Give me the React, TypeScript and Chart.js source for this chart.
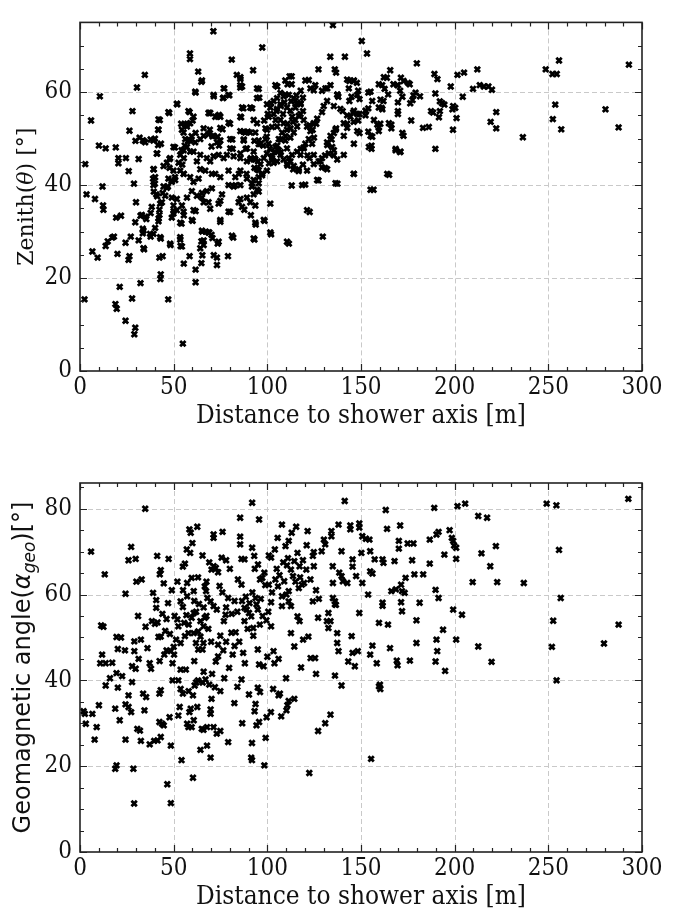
import React, { useEffect, useRef } from "react";
import { Chart, registerables } from "chart.js";

Chart.register(...registerables);

// ---------- data ----------
const xTickValues = [0, 50, 100, 150, 200, 250, 300];
const zenithTickValues = [0, 20, 40, 60];
const geoTickValues = [0, 20, 40, 60, 80];

const xAxisTitle = "Distance to shower axis [m]";

// Zenith angle vs distance  [distance (m), zenith (deg)]
const zenithPoints: [number, number][] = [
  [2.8, 44.5], [5.9, 53.9], [10.6, 59.1], [10.1, 48.5], [13.7, 47.9], [19.1, 48.1], [3.5, 38.0], [8.0, 37.0],
  [12.0, 39.7], [12.3, 35.6], [20.5, 45.8], [24.5, 45.8], [20.5, 44.7], [26.0, 43.0], [26.4, 51.7], [28.0, 55.9],
  [28.8, 40.3], [30.4, 61.0], [34.6, 63.7], [31.3, 45.6], [29.9, 36.3], [31.8, 50.2], [29.6, 49.5], [34.0, 49.5],
  [37.7, 49.8], [40.0, 50.0], [41.7, 51.9], [42.6, 54.0], [41.7, 48.6], [41.2, 46.8], [47.6, 55.5], [51.9, 57.4],
  [50.7, 48.1], [47.8, 45.6], [47.8, 43.7], [39.4, 43.4], [39.0, 41.4], [40.0, 40.3], [39.4, 38.6], [41.2, 37.6],
  [44.1, 38.3], [46.9, 39.7], [48.8, 41.0], [50.7, 41.7], [55.4, 42.4], [54.6, 44.4], [55.4, 45.8], [54.2, 47.5],
  [55.9, 48.5], [57.7, 49.5], [59.6, 50.5], [61.7, 51.2], [58.5, 55.7], [60.1, 53.9], [54.0, 53.2], [57.3, 53.2],
  [58.7, 68.3], [58.7, 67.1], [61.7, 59.9], [63.1, 64.4], [64.8, 62.2], [71.2, 73.1], [71.4, 59.1], [69.0, 55.5],
  [73.5, 54.8], [74.2, 55.1], [69.3, 51.9], [66.0, 52.2], [70.7, 50.5], [73.5, 50.4], [74.2, 48.5], [70.2, 48.3],
  [76.1, 52.0], [80.1, 53.2], [77.0, 60.8], [76.6, 58.8], [79.7, 59.3], [81.0, 67.0], [83.7, 63.7], [85.6, 62.8],
  [85.6, 61.0], [86.5, 61.2], [87.2, 56.5], [86.0, 54.6], [91.9, 56.5], [92.4, 64.7], [95.4, 60.7], [95.7, 58.8],
  [97.3, 69.6], [87.2, 51.5], [89.6, 51.5], [87.4, 49.8], [81.3, 49.8], [81.5, 47.8], [85.6, 46.8], [88.4, 47.8],
  [91.2, 45.8], [93.1, 45.8], [95.0, 45.1], [93.1, 43.7], [95.4, 43.2], [97.3, 42.5], [95.4, 38.6], [91.9, 40.3],
  [88.9, 42.4], [84.8, 42.4], [83.0, 40.0], [93.1, 49.5], [95.4, 48.8], [97.8, 48.5], [99.7, 50.4], [99.0, 52.2],
  [98.3, 53.9], [100.2, 55.3], [102.0, 57.6], [104.9, 55.9], [105.3, 61.2], [109.6, 59.5], [110.8, 61.7], [111.9, 63.4],
  [113.0, 63.4], [113.0, 61.7], [114.9, 58.1], [112.7, 58.0], [109.1, 57.8], [107.2, 57.0], [108.4, 55.3], [110.8, 53.2],
  [113.8, 53.6], [116.7, 54.9], [117.8, 57.6], [119.0, 55.9], [115.5, 59.3], [119.0, 58.8], [117.8, 60.3], [122.1, 62.6],
  [125.6, 61.5], [127.3, 64.9], [129.2, 60.3], [132.0, 60.8], [133.6, 67.6], [135.0, 74.4], [136.0, 64.9], [136.7, 64.2],
  [137.4, 59.5], [137.9, 59.0], [140.2, 55.9], [141.4, 67.6], [143.8, 62.4], [146.1, 62.4], [147.8, 62.0], [148.5, 60.3],
  [150.4, 71.0], [153.2, 68.3], [153.9, 59.9], [156.0, 58.1], [149.2, 58.5], [144.9, 59.0], [143.8, 58.1], [146.1, 53.6],
  [142.6, 53.2], [148.5, 53.9], [149.2, 55.3], [145.8, 55.6], [152.7, 55.9], [153.9, 56.5], [153.9, 51.5], [149.2, 51.2],
  [156.0, 50.4], [155.6, 48.5], [155.6, 47.8], [156.7, 39.0], [146.1, 42.4], [137.4, 40.3], [135.5, 51.2], [136.7, 52.2],
  [134.3, 49.8], [135.5, 46.4], [127.3, 41.0], [130.8, 43.7], [128.4, 45.1], [132.0, 48.6], [130.8, 46.4], [124.9, 50.2],
  [124.2, 51.9], [122.5, 52.9], [126.1, 53.2], [121.4, 46.4], [122.5, 45.8], [119.0, 44.4], [116.7, 43.0], [113.8, 43.4],
  [110.8, 44.2], [111.5, 45.8], [117.8, 47.8], [119.4, 48.1], [120.2, 40.1], [113.0, 39.9], [107.2, 47.1], [105.3, 48.5],
  [103.7, 47.1], [101.3, 47.8], [100.9, 44.7], [102.5, 45.8], [107.2, 49.8], [109.6, 50.5], [112.4, 52.2], [104.4, 54.0],
  [102.5, 52.5], [160.3, 53.2], [159.5, 52.5], [161.4, 56.3], [161.0, 56.6], [162.0, 58.1], [165.0, 42.2], [164.5, 59.5],
  [163.8, 63.1], [165.6, 64.7], [159.5, 61.7], [162.6, 60.7], [166.2, 53.0], [166.2, 52.2], [168.5, 47.8], [170.8, 47.1],
  [167.3, 61.7], [169.7, 61.5], [169.7, 57.8], [169.7, 55.9], [169.7, 55.3], [170.9, 60.3], [172.1, 59.0], [171.3, 63.1],
  [172.7, 62.4], [175.1, 62.0], [176.0, 61.7], [176.3, 57.6], [177.5, 58.3], [179.1, 59.9], [178.0, 59.3], [181.5, 59.1],
  [179.8, 66.2], [172.1, 51.2], [172.7, 50.6], [176.8, 53.9], [183.1, 52.3], [186.2, 52.5], [187.4, 55.9], [188.5, 55.6],
  [189.7, 47.8], [189.7, 59.7], [189.2, 63.9], [190.8, 62.8], [192.1, 55.9], [192.1, 58.0], [193.3, 57.6], [194.5, 57.3],
  [191.6, 54.6], [198.8, 56.3], [199.2, 57.0], [200.3, 56.6], [201.0, 54.4], [199.1, 51.9], [197.9, 61.2], [201.5, 63.7],
  [205.0, 64.2], [204.3, 59.0], [212.1, 64.9], [209.8, 60.7], [213.4, 61.5], [215.6, 61.2], [218.0, 61.2], [219.9, 60.5],
  [219.2, 53.6], [222.2, 52.2], [222.2, 55.7], [236.4, 50.3], [248.6, 64.9], [252.2, 63.9], [254.5, 63.9], [255.7, 66.8],
  [253.7, 57.3], [252.4, 54.2], [256.9, 52.0], [280.5, 56.3], [287.5, 52.4], [293.0, 65.9],
  [2.4, 15.4], [6.6, 25.7], [9.4, 24.4], [12.5, 34.7], [13.7, 26.9], [14.8, 27.9], [17.2, 28.7], [18.1, 28.9],
  [20.0, 25.2], [19.3, 33.0], [21.9, 33.4], [18.9, 14.4], [19.6, 13.4], [21.2, 18.1], [24.3, 10.8], [24.3, 27.6],
  [25.9, 23.9], [26.4, 24.7], [27.1, 28.9], [27.8, 15.6], [29.5, 9.3], [29.0, 7.9], [29.5, 32.0], [31.3, 28.1],
  [32.3, 18.9], [32.3, 33.4], [34.2, 26.2], [33.5, 30.6], [33.5, 29.6], [35.4, 32.7], [37.7, 28.9], [37.7, 34.0],
  [42.0, 32.8], [42.4, 24.4], [43.1, 20.8], [42.9, 19.8], [44.1, 24.7], [43.1, 28.5], [42.4, 34.7], [47.1, 15.4],
  [48.3, 27.1], [49.0, 33.0], [50.0, 34.4], [53.5, 28.3], [53.7, 26.9], [54.2, 31.7], [55.4, 33.5], [55.4, 23.1],
  [54.9, 5.9], [58.5, 24.7], [60.1, 32.3], [61.7, 21.8], [61.7, 19.1], [61.7, 34.4], [64.8, 23.2], [65.3, 24.9],
  [64.8, 27.9], [66.0, 27.1], [65.3, 30.0], [67.1, 30.0], [69.0, 29.8], [70.2, 29.3], [70.7, 28.6], [71.4, 24.9],
  [73.1, 24.4], [73.1, 22.8], [73.5, 27.4], [74.9, 32.1], [79.0, 24.7], [80.1, 34.2], [81.8, 28.7], [87.7, 34.7],
  [91.2, 33.5], [93.1, 28.3], [93.8, 31.5], [98.5, 32.3], [102.0, 29.4], [111.5, 27.4], [122.6, 34.2], [129.6, 28.9],
  [33.5, 49.6], [34.8, 49.2], [39.2, 49.6], [41.9, 51.9], [43.2, 48.9], [41.0, 46.8], [39.2, 43.4], [40.1, 41.7],
  [39.2, 40.0], [40.7, 38.0], [38.3, 35.3], [42.8, 36.0], [42.4, 33.6], [43.7, 36.3], [33.0, 33.6], [34.8, 33.2],
  [47.2, 55.7], [41.9, 54.1], [49.9, 48.2], [48.1, 45.8], [46.4, 44.8], [44.6, 44.1], [49.9, 43.1], [47.2, 41.4],
  [49.0, 40.7], [50.8, 41.1], [46.4, 39.4], [44.6, 39.7], [45.5, 37.7], [49.0, 37.3], [49.9, 35.6], [51.7, 37.0],
  [55.3, 34.3], [54.4, 35.6], [57.1, 37.3], [59.7, 38.7], [62.4, 37.7], [65.1, 38.3], [65.1, 37.3], [67.7, 38.7],
  [68.6, 36.3], [70.4, 39.3], [66.0, 36.3], [69.5, 34.9], [74.0, 36.0], [74.9, 36.6], [75.8, 38.0], [79.3, 40.0],
  [82.0, 39.7], [85.6, 40.0], [85.6, 37.0], [84.7, 36.3], [89.1, 37.3], [90.9, 36.3], [86.5, 35.3], [93.6, 35.6],
  [92.7, 38.0], [94.5, 39.0], [91.8, 39.7], [95.4, 40.4], [92.7, 41.1], [89.1, 41.4], [85.6, 43.1], [82.9, 41.7],
  [79.3, 43.1], [74.9, 41.7], [72.2, 42.4], [70.4, 42.4], [66.9, 43.1], [64.2, 43.4], [63.3, 41.4], [60.6, 40.7],
  [58.8, 41.7], [55.3, 42.4], [53.5, 43.1], [52.6, 44.8], [53.5, 46.5], [55.3, 47.5], [57.1, 48.2], [58.8, 47.2],
  [60.6, 47.2], [62.4, 45.1], [64.2, 46.5], [67.7, 45.8], [69.5, 45.1], [71.3, 46.2], [74.0, 46.5], [76.7, 45.8],
  [78.4, 46.5], [82.0, 46.2], [85.6, 45.8], [89.1, 45.1], [90.9, 45.5], [93.6, 45.5], [92.7, 47.2], [89.1, 47.9],
  [87.4, 49.6], [88.2, 51.3], [85.6, 51.6], [80.2, 49.9], [74.9, 49.6], [73.1, 49.2], [71.3, 50.6], [68.6, 50.9],
  [66.0, 50.6], [64.2, 49.9], [61.5, 49.2], [58.8, 49.6], [56.2, 49.9], [55.3, 51.3], [54.4, 51.9], [57.1, 52.6],
  [58.8, 53.3], [56.2, 53.0], [60.6, 54.7], [57.9, 55.9], [68.6, 55.5], [72.2, 54.7], [74.9, 54.7], [79.3, 53.4],
  [74.9, 52.3], [85.6, 54.7], [86.5, 56.7], [90.9, 56.7], [92.7, 54.0], [94.5, 53.3], [93.6, 51.3], [95.4, 49.6],
  [96.3, 48.9], [99.0, 49.9], [100.7, 48.9], [99.8, 46.8], [102.5, 46.2], [103.4, 44.8], [105.2, 45.1], [98.1, 45.8],
  [96.3, 44.5], [99.8, 43.1], [97.2, 42.1], [94.5, 43.4], [95.4, 41.7], [99.8, 51.9], [100.7, 54.7], [101.6, 56.7],
  [99.8, 57.4], [103.4, 58.1], [105.2, 58.7], [107.0, 59.8], [108.7, 59.1], [111.4, 59.4], [114.1, 58.7], [115.9, 57.7],
  [117.7, 57.4], [115.0, 56.7], [112.3, 56.0], [110.5, 56.7], [107.0, 57.4], [105.2, 56.4], [103.4, 55.3], [107.0, 54.0],
  [108.7, 53.3], [105.2, 52.6], [110.5, 51.9], [107.9, 51.3], [106.1, 49.9], [109.6, 49.6], [112.3, 50.2], [114.1, 51.3],
  [115.9, 52.6], [115.0, 54.0], [113.2, 54.7], [117.7, 55.3], [119.4, 54.0], [121.2, 52.6], [123.0, 51.6], [124.8, 53.3],
  [126.6, 54.3], [129.2, 55.7], [130.1, 57.0], [131.9, 58.1], [131.0, 60.8], [133.7, 61.5], [137.3, 59.4], [135.5, 57.0],
  [139.0, 56.4], [142.6, 55.0], [140.8, 53.3], [144.4, 54.7], [146.2, 56.0], [148.0, 55.3], [152.4, 56.0], [152.4, 55.0],
  [156.9, 54.0], [158.7, 53.0], [164.9, 53.3], [159.5, 51.6], [155.1, 50.6], [148.0, 51.6], [142.6, 52.3], [140.8, 50.6],
  [136.4, 51.9], [133.7, 50.6], [131.9, 49.2], [134.6, 48.2], [135.5, 47.5], [132.8, 46.8], [129.2, 45.8], [127.5, 45.1],
  [124.8, 46.5], [123.9, 48.9], [122.1, 49.9], [120.3, 48.9], [119.4, 47.9], [117.7, 46.5], [115.9, 47.2], [113.2, 46.5],
  [112.3, 45.1], [110.5, 44.5], [108.7, 45.5], [110.5, 47.9], [106.1, 47.5], [104.3, 48.2], [107.0, 46.5], [114.1, 44.1],
  [116.8, 43.4], [121.2, 43.1], [124.8, 44.5], [129.2, 43.8], [131.9, 43.4], [137.3, 45.5], [140.8, 46.5], [154.2, 48.2],
  [146.2, 48.9], [148.0, 59.4], [143.5, 60.8], [142.6, 62.7], [146.2, 62.5], [155.1, 60.1], [160.4, 58.4], [159.5, 56.7],
  [161.3, 61.5], [162.2, 63.2], [169.4, 61.5], [146.2, 42.4], [136.4, 40.4], [118.6, 40.0], [126.6, 41.1], [121.2, 34.6],
  [101.6, 36.0], [93.6, 31.9], [98.1, 32.5], [79.3, 34.3], [60.6, 34.6], [51.7, 34.6], [49.9, 33.9], [164.0, 42.4],
  [168.5, 47.5], [171.1, 47.2], [155.1, 39.0], [65.1, 62.5], [61.5, 60.1], [71.3, 59.4], [76.7, 60.8], [76.3, 58.7],
  [79.3, 59.4], [85.6, 63.2], [85.6, 61.5], [94.5, 60.8], [94.5, 58.7], [104.3, 61.5], [109.6, 62.5], [120.3, 62.5],
  [123.0, 60.8], [124.8, 60.4], [51.7, 57.5], [69.5, 55.5], [90.9, 51.3], [80.2, 47.9],
  [37.4, 29.5], [33.9, 30.2], [42.8, 28.8], [33.9, 26.4], [53.5, 31.9], [59.7, 32.5], [74.9, 32.5], [110.5, 27.8],
  [101.6, 29.8], [92.7, 28.5], [81.1, 29.1], [74.0, 27.8], [68.6, 29.8], [65.1, 30.2], [66.0, 28.1], [64.2, 26.4],
  [53.5, 28.8], [54.4, 26.8], [48.1, 27.4], [39.2, 29.5], [40.1, 30.8], [41.9, 32.2],
];

// Geomagnetic angle vs distance  [distance (m), alpha_geo (deg)]
const geoPoints: [number, number][] = [
  [5.9, 70.0], [13.2, 64.7], [11.3, 52.8], [12.5, 52.5], [10.8, 44.0], [13.7, 44.0], [17.2, 44.1], [11.8, 46.0],
  [19.5, 50.1], [21.9, 50.0], [20.2, 47.3], [19.5, 41.7], [24.3, 60.2], [25.9, 68.0], [27.3, 71.1], [29.7, 68.3],
  [30.1, 63.0], [32.9, 63.5], [34.8, 80.0], [29.0, 49.1], [32.5, 49.5], [31.3, 45.0], [27.8, 43.3], [29.7, 42.7],
  [29.0, 46.8], [37.2, 44.0], [37.9, 42.7], [39.0, 60.4], [40.7, 58.7], [40.7, 56.9], [38.4, 53.8], [40.0, 53.2],
  [41.4, 53.5], [41.9, 50.1], [43.1, 50.2], [41.2, 69.0], [42.6, 64.7], [43.1, 65.7], [44.7, 62.6], [47.3, 68.3],
  [46.2, 47.0], [48.5, 46.8], [46.2, 54.3], [50.2, 46.0], [49.4, 44.0], [52.5, 40.0], [53.7, 42.5], [54.9, 66.5],
  [56.0, 67.2], [57.2, 62.7], [58.8, 69.7], [59.6, 63.9], [58.4, 75.2], [59.1, 74.4], [62.6, 75.8], [60.7, 60.8],
  [57.2, 59.6], [53.7, 58.4], [54.9, 57.1], [55.6, 53.4], [52.5, 52.6], [51.3, 49.5], [53.7, 48.7], [56.0, 50.3],
  [57.9, 51.0], [59.6, 54.6], [60.7, 55.7], [60.7, 51.0], [61.9, 48.7], [63.1, 47.2], [65.4, 47.2], [65.9, 48.7],
  [64.3, 50.2], [63.1, 51.4], [65.9, 52.6], [64.3, 53.8], [66.6, 54.6], [65.4, 69.1], [66.6, 61.9], [67.3, 60.8],
  [68.0, 59.2], [69.7, 58.4], [71.3, 57.3], [73.0, 56.5], [70.2, 65.8], [71.3, 66.6], [72.5, 66.2], [73.7, 65.2],
  [71.3, 74.0], [71.3, 73.2], [76.1, 74.6], [75.6, 68.6], [73.7, 45.6], [72.5, 44.4], [73.7, 48.3], [74.9, 50.4],
  [76.8, 53.8], [77.7, 55.3], [79.1, 59.2], [79.6, 42.9], [80.8, 51.1], [83.1, 51.2], [81.5, 46.0], [84.3, 63.5],
  [85.5, 73.5], [85.5, 71.7], [85.5, 77.9], [86.2, 62.3], [86.2, 68.3], [87.8, 68.2], [86.2, 40.2], [87.1, 46.4],
  [87.8, 53.8], [87.8, 56.9], [89.0, 56.5], [90.2, 55.7], [91.4, 54.9], [91.9, 81.4], [91.9, 70.9], [93.3, 66.0],
  [92.5, 52.2], [92.5, 50.4], [93.7, 59.2], [94.2, 57.7], [94.9, 56.5], [95.6, 77.5], [96.1, 63.5], [97.3, 63.9],
  [98.4, 65.1], [98.9, 62.2], [94.9, 47.2], [95.6, 43.7], [98.0, 43.3], [100.8, 69.1], [102.0, 68.6], [100.8, 62.3],
  [102.0, 58.2], [102.0, 52.6], [103.3, 46.8], [103.8, 44.0], [104.3, 63.5], [105.7, 61.9], [105.5, 73.2], [107.8, 76.3],
  [109.7, 71.3], [109.0, 63.1], [107.8, 57.3], [107.8, 59.6], [110.2, 60.0], [111.4, 58.4], [111.4, 60.8], [112.6, 57.3],
  [112.6, 65.8], [113.7, 64.3], [114.4, 67.8], [113.0, 74.4], [111.4, 72.5], [115.4, 75.8], [116.1, 69.7], [117.2, 66.6],
  [116.8, 61.5], [118.4, 62.3], [119.6, 62.7], [120.8, 65.8], [121.5, 74.8], [116.1, 54.9], [117.2, 53.8], [112.6, 51.0],
  [114.4, 47.9], [119.1, 49.5], [121.9, 50.2], [124.8, 69.9], [124.3, 69.0], [124.8, 66.6], [124.3, 58.4], [123.1, 45.2],
  [125.5, 45.2], [127.1, 54.6], [129.0, 70.1], [130.2, 72.8], [130.9, 71.7], [131.8, 53.8], [132.6, 52.2], [132.6, 55.7],
  [133.7, 53.8], [134.2, 74.8], [134.2, 73.6], [134.9, 66.6], [135.0, 62.7], [135.0, 59.2], [136.1, 58.4], [136.1, 57.7],
  [136.6, 57.6], [137.3, 48.7], [137.3, 51.0], [138.0, 46.8], [138.0, 76.3], [138.4, 65.1], [139.6, 64.3], [140.3, 63.1],
  [139.6, 70.1], [136.1, 41.1], [141.3, 81.8], [142.7, 62.7], [143.2, 44.4], [144.3, 76.1], [144.3, 75.2], [145.5, 68.2],
  [145.5, 66.5], [145.0, 50.3], [145.5, 46.4], [146.7, 43.3], [147.4, 64.3], [148.3, 46.8], [149.1, 76.6], [149.1, 75.6],
  [149.1, 55.7], [150.2, 69.7], [150.7, 62.7], [150.7, 73.6], [152.6, 73.0], [154.5, 72.8], [154.9, 70.1], [154.9, 65.4],
  [156.1, 64.9], [157.3, 68.2], [153.8, 60.0], [154.9, 46.0], [156.1, 48.1], [158.4, 44.0], [159.6, 53.4], [160.1, 39.0],
  [161.5, 68.2], [162.0, 67.4], [161.5, 58.1], [161.5, 57.4], [163.2, 79.7], [163.9, 75.3], [164.4, 53.0], [165.5, 47.5],
  [166.2, 60.8], [167.9, 67.8], [168.6, 61.2], [169.1, 44.6], [169.5, 43.5], [170.2, 70.7], [170.2, 72.5], [170.9, 76.1],
  [171.4, 62.3], [171.9, 60.8], [171.4, 58.2], [171.9, 56.1], [173.3, 60.4], [173.8, 63.9], [174.9, 71.9], [176.1, 44.6],
  [177.3, 68.0], [178.0, 71.9], [178.5, 64.7], [179.6, 54.0], [179.6, 48.7], [181.3, 58.1], [183.2, 64.7], [186.7, 67.2],
  [186.7, 72.8], [189.1, 80.2], [190.3, 74.0], [191.4, 74.6], [189.8, 61.1], [191.4, 59.2], [190.3, 49.5], [190.7, 46.8],
  [189.8, 44.4], [193.8, 51.8], [194.5, 69.3], [194.9, 42.2], [197.3, 75.0], [198.5, 73.2], [199.2, 72.5], [199.7, 71.4],
  [200.8, 70.9], [200.8, 68.3], [199.2, 56.5], [200.8, 49.5], [201.5, 80.6], [203.9, 55.3], [205.6, 81.2], [209.6, 62.9],
  [212.6, 47.9], [212.6, 78.3], [214.3, 69.6], [217.3, 77.9], [219.0, 66.6], [219.7, 44.3], [222.0, 71.3], [222.7, 62.9],
  [236.9, 62.7], [249.1, 81.2], [251.9, 47.8], [252.6, 53.9], [254.3, 80.8], [255.7, 70.4], [256.6, 59.2], [254.4, 40.0],
  [279.7, 48.6], [287.5, 53.0], [292.7, 82.3],
  [1.9, 32.8], [2.6, 32.2], [3.1, 29.9], [6.6, 32.2], [7.8, 26.2], [8.9, 29.1], [10.1, 34.2], [13.7, 38.8],
  [18.8, 33.4], [20.2, 38.3], [21.2, 30.7], [18.8, 19.4], [19.5, 20.2], [24.3, 26.2], [24.3, 34.4], [25.9, 33.8],
  [25.9, 36.5], [27.3, 32.6], [27.8, 39.6], [28.5, 19.4], [28.9, 11.3], [30.6, 28.7], [32.0, 28.3], [32.5, 25.9],
  [33.7, 36.9], [34.4, 33.0], [35.3, 36.1], [37.2, 25.1], [39.6, 25.9], [41.4, 26.0], [42.4, 30.3], [43.1, 26.8],
  [43.8, 29.9], [42.4, 36.9], [43.1, 37.7], [44.7, 29.5], [46.6, 15.8], [47.8, 31.4], [48.5, 24.8], [48.5, 11.4],
  [49.4, 40.0], [52.5, 31.8], [53.2, 33.8], [53.7, 38.0], [54.9, 36.9], [54.2, 21.4], [57.2, 29.9], [57.9, 29.1],
  [58.4, 32.6], [59.6, 29.1], [59.1, 33.4], [60.3, 36.5], [60.3, 17.3], [61.2, 38.8], [60.7, 30.7], [62.6, 33.8],
  [64.3, 23.8], [65.0, 28.7], [65.9, 28.5], [67.8, 24.8], [67.8, 29.1], [69.7, 33.2], [69.7, 32.2], [70.2, 35.7],
  [69.7, 22.0], [71.3, 29.1], [72.0, 38.4], [73.0, 27.6], [74.9, 28.2], [74.9, 37.5], [79.1, 25.6], [82.4, 34.7],
  [86.6, 30.0], [90.2, 36.7], [91.4, 22.0], [91.8, 21.4], [91.8, 25.4], [93.2, 32.8], [93.7, 34.5], [94.2, 29.5],
  [94.9, 38.3], [95.6, 30.3], [96.1, 37.3], [98.4, 20.2], [99.1, 26.6], [99.6, 31.4], [101.9, 32.6], [103.1, 38.0],
  [106.0, 36.5], [106.7, 36.9], [107.4, 31.6], [110.2, 33.0], [110.7, 34.2], [111.4, 35.2], [114.4, 35.7], [122.4, 18.4],
  [127.1, 28.2], [130.9, 30.0], [133.7, 32.0], [139.6, 38.8], [155.4, 21.7], [159.6, 38.6], [160.3, 38.0],
  [63.0, 40.0], [65.5, 39.5], [67.0, 40.2], [69.0, 39.0], [56.5, 42.5], [61.0, 44.5], [66.0, 42.0], [70.5, 41.5],
  [50.5, 55.0], [52.0, 54.2], [56.8, 55.2], [58.0, 53.0], [62.0, 56.0], [63.5, 57.8], [61.0, 58.5], [66.0, 57.0],
  [50.0, 47.8], [48.0, 50.8], [45.5, 51.5], [44.0, 55.5], [47.0, 58.0], [49.0, 61.0], [52.0, 63.0], [55.0, 61.0],
  [63.0, 64.0], [67.5, 63.0], [69.0, 67.5], [74.5, 62.0], [76.0, 60.5], [78.0, 57.0], [81.0, 55.5], [82.5, 58.5],
  [84.0, 56.0], [86.5, 58.5], [88.5, 59.5], [90.5, 58.0], [92.0, 60.5], [96.5, 59.0], [97.5, 55.0], [99.5, 54.0],
  [100.5, 56.0], [96.0, 53.0], [89.5, 52.0], [85.0, 49.0], [82.5, 48.0], [78.0, 49.0], [76.5, 47.0], [70.0, 49.0],
  [68.5, 52.0], [67.5, 55.0], [105.0, 66.0], [106.5, 64.5], [108.5, 67.5], [110.5, 66.8], [111.0, 68.5], [115.0, 63.0],
  [117.5, 64.0], [119.0, 68.0], [121.0, 71.5], [123.0, 63.5], [126.0, 61.0], [127.5, 59.0], [104.0, 70.5], [102.5, 60.5],
  [95.0, 67.0], [93.0, 69.0], [80.0, 66.0], [78.0, 68.0], [60.0, 72.0], [57.0, 70.5], [45.0, 46.0], [42.5, 44.5],
  [36.0, 47.5], [35.0, 52.5], [31.0, 55.0], [24.0, 47.0], [16.0, 40.5], [22.5, 41.0], [88.0, 44.0], [100.0, 45.5],
  [106.0, 45.0], [110.0, 40.5], [118.0, 43.0], [126.0, 41.5], [77.0, 40.5], [84.0, 38.5], [62.0, 39.5], [58.0, 37.5],
];

// ---------- styling ----------
const SERIF_COND = "'DejaVu Serif Condensed', 'DejaVu Serif', serif";
const SERIF = "'DejaVu Serif', serif";
const SANS = "'DejaVu Sans', sans-serif";

type Part = { text: string; font: string; dy?: number };

function drawRotatedParts(ctx: CanvasRenderingContext2D, parts: Part[], cy: number, baselineX: number) {
  ctx.save();
  let total = 0;
  const widths = parts.map((p) => {
    ctx.font = p.font;
    const w = ctx.measureText(p.text).width;
    total += w;
    return w;
  });
  ctx.translate(baselineX, cy);
  ctx.rotate(-Math.PI / 2);
  ctx.fillStyle = "#111";
  ctx.textBaseline = "alphabetic";
  ctx.textAlign = "left";
  let x = -total / 2;
  parts.forEach((p, i) => {
    ctx.font = p.font;
    ctx.fillText(p.text, x, p.dy || 0);
    x += widths[i];
  });
  ctx.restore();
}

type Cfg = {
  points: [number, number][];
  yTicks: number[];
  yMax: number;
  height: number;
  plotTop: number;
  plotBottom: number;
  yTitle: Part[];
  yTitleX: number;
};

const PLOT_LEFT = 80;
const PLOT_RIGHT = 642;
const WIDTH = 684;

function makeDecor(cfg: Cfg) {
  return {
    id: "decor",
    beforeDatasetsDraw(chart: any) {
      const { ctx, chartArea: a, scales } = chart;
      const xs = scales.x;
      const ys = scales.y;
      ctx.save();
      ctx.strokeStyle = "#c9c9c9";
      ctx.lineWidth = 1;
      ctx.setLineDash([5, 3]);
      xTickValues.forEach((v) => {
        if (v === 0 || v === 300) return;
        const px = Math.round(xs.getPixelForValue(v)) + 0.5;
        ctx.beginPath();
        ctx.moveTo(px, a.top);
        ctx.lineTo(px, a.bottom);
        ctx.stroke();
      });
      cfg.yTicks.forEach((v) => {
        if (v === 0) return;
        const py = Math.round(ys.getPixelForValue(v)) + 0.5;
        ctx.beginPath();
        ctx.moveTo(a.left, py);
        ctx.lineTo(a.right, py);
        ctx.stroke();
      });
      ctx.restore();
    },
    afterDatasetsDraw(chart: any) {
      const { ctx, chartArea: a, scales } = chart;
      const xs = scales.x;
      const ys = scales.y;
      ctx.save();
      ctx.strokeStyle = "#222";
      ctx.lineWidth = 1.2;
      const major = 7;
      const minor = 4;
      for (let v = 0; v <= 300; v += 10) {
        const px = Math.round(xs.getPixelForValue(v)) + 0.5;
        const len = v % 50 === 0 ? major : minor;
        ctx.beginPath();
        ctx.moveTo(px, a.bottom);
        ctx.lineTo(px, a.bottom - len);
        ctx.moveTo(px, a.top);
        ctx.lineTo(px, a.top + len);
        ctx.stroke();
      }
      for (let v = 0; v <= cfg.yMax; v += 5) {
        const py = Math.round(ys.getPixelForValue(v)) + 0.5;
        const len = v % 20 === 0 ? major : minor;
        ctx.beginPath();
        ctx.moveTo(a.left, py);
        ctx.lineTo(a.left + len, py);
        ctx.moveTo(a.right, py);
        ctx.lineTo(a.right - len, py);
        ctx.stroke();
      }
      ctx.lineWidth = 1.6;
      ctx.strokeRect(a.left, a.top, a.right - a.left, a.bottom - a.top);

      ctx.fillStyle = "#111";
      ctx.font = `26px ${SERIF_COND}`;
      ctx.textAlign = "center";
      ctx.textBaseline = "alphabetic";
      ctx.fillText(xAxisTitle, (a.left + a.right) / 2, a.bottom + 52);
      ctx.restore();

      drawRotatedParts(ctx, cfg.yTitle, (a.top + a.bottom) / 2, cfg.yTitleX);
    },
  };
}

function ScatterPanel({ cfg, top }: { cfg: Cfg; top: number }) {
  const ref = useRef<HTMLCanvasElement | null>(null);
  useEffect(() => {
    const canvas = ref.current;
    if (!canvas) return;
    const chart = new Chart(canvas, {
      type: "scatter",
      data: {
        datasets: [
          {
            data: cfg.points.map(([x, y]) => ({ x, y })),
            pointStyle: "crossRot",
            radius: 3.8,
            borderWidth: 2.8,
            borderColor: "#000",
            backgroundColor: "#000",
          },
        ],
      },
      plugins: [makeDecor(cfg)],
      options: {
        animation: false,
        responsive: false,
        devicePixelRatio: 1,
        layout: {
          padding: { left: 0, right: WIDTH - PLOT_RIGHT, top: cfg.plotTop, bottom: 0 },
        },
        plugins: { legend: { display: false }, tooltip: { enabled: false } },
        scales: {
          x: {
            type: "linear",
            min: 0,
            max: 300,
            afterBuildTicks: (s: any) => {
              s.ticks = xTickValues.map((v) => ({ value: v }));
            },
            afterFit: (s: any) => {
              s.height = cfg.height - cfg.plotBottom;
            },
            grid: { display: false, drawTicks: false },
            border: { display: false },
            ticks: {
              color: "#111",
              padding: 2,
              maxRotation: 0,
              font: { family: SERIF_COND, size: 24 },
            },
          },
          y: {
            type: "linear",
            min: 0,
            max: cfg.yMax,
            afterBuildTicks: (s: any) => {
              s.ticks = cfg.yTicks.map((v) => ({ value: v }));
            },
            afterFit: (s: any) => {
              s.width = PLOT_LEFT;
            },
            grid: { display: false, drawTicks: false },
            border: { display: false },
            ticks: {
              color: "#111",
              padding: 8,
              font: { family: SERIF_COND, size: 24 },
            },
          },
        },
      },
    } as any);
    return () => chart.destroy();
  }, [cfg]);
  return (
    <canvas
      ref={ref}
      width={WIDTH}
      height={cfg.height}
      style={{ position: "absolute", left: 0, top, width: WIDTH, height: cfg.height }}
    />
  );
}

const topCfg: Cfg = {
  points: zenithPoints,
  yTicks: zenithTickValues,
  yMax: 75,
  height: 456,
  plotTop: 3,
  plotBottom: 371,
  yTitle: [
    { text: "Zenith(", font: `22px ${SERIF}` },
    { text: "θ", font: `italic 22px ${SERIF}` },
    { text: ") [°]", font: `22px ${SERIF}` },
  ],
  yTitleX: 33,
};

const bottomCfg: Cfg = {
  points: geoPoints,
  yTicks: geoTickValues,
  yMax: 86,
  height: 457,
  plotTop: 27,
  plotBottom: 396,
  yTitle: [
    { text: "Geomagnetic angle(", font: `24px ${SANS}` },
    { text: "α", font: `italic 24px ${SANS}` },
    { text: "geo", font: `italic 17px ${SANS}`, dy: 5 },
    { text: ")[°]", font: `24px ${SANS}` },
  ],
  yTitleX: 30,
};

export default function App() {
  return (
    <div style={{ position: "absolute", left: 0, top: 0, width: WIDTH, height: 913, background: "#fff" }}>
      <ScatterPanel cfg={topCfg} top={0} />
      <ScatterPanel cfg={bottomCfg} top={456} />
    </div>
  );
}
